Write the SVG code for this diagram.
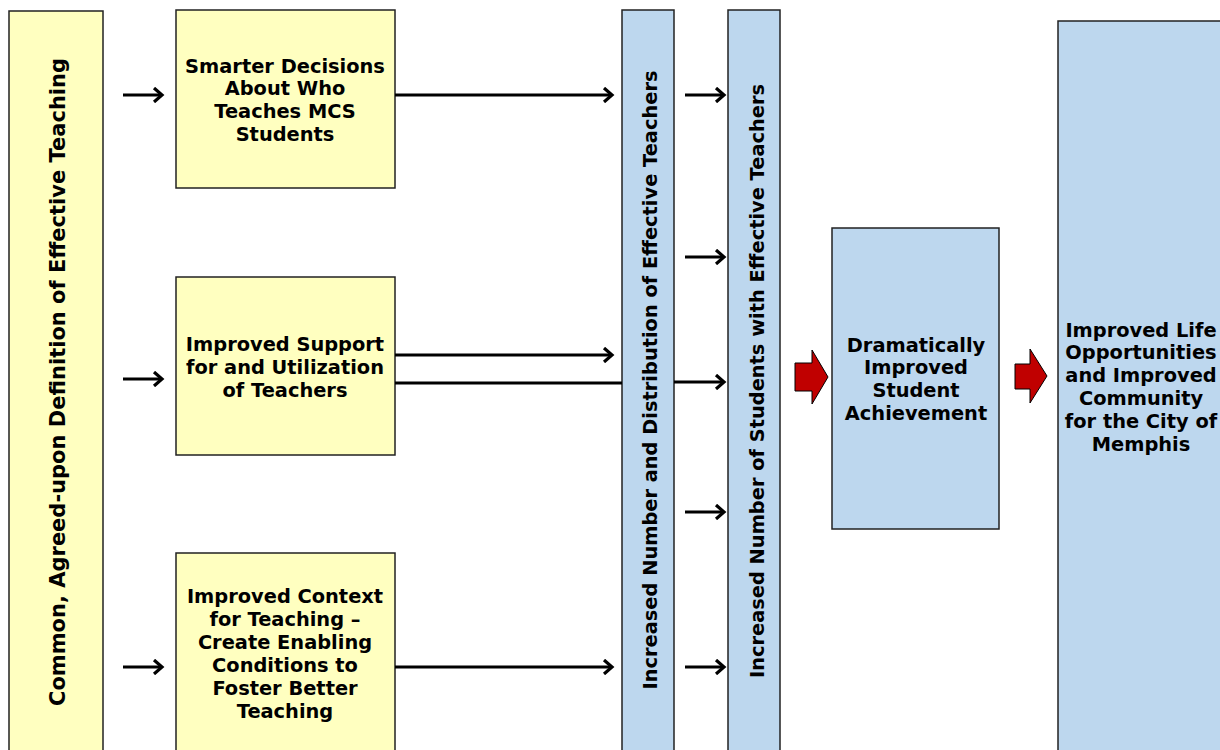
<svg xmlns="http://www.w3.org/2000/svg" width="1220" height="750" viewBox="0 0 1220 750">
<defs>
<style>
.y{fill:#FFFFC0;stroke:#222;stroke-width:1.5}
.b{fill:#BDD7EE;stroke:#222;stroke-width:1.5}
.t{font-family:"DejaVu Sans",Verdana,sans-serif;font-weight:bold;font-size:19.4px;fill:#000;text-anchor:middle;dominant-baseline:central}
.v{font-size:21px}
.c{stroke:#000;stroke-width:3;fill:none}
.r{fill:#C00000;stroke:#000;stroke-width:1}
</style>
<marker id="ah" markerWidth="14" markerHeight="16" refX="11" refY="8" orient="auto" markerUnits="userSpaceOnUse">
<polyline points="3,1 11,8 3,15" fill="none" stroke="#000" stroke-width="3.2"/>
</marker>
</defs>
<rect width="1220" height="750" fill="#fff"/>
<g id="n-definition"><rect class="y" x="9" y="11" width="94" height="760"/>
<text class="t v" transform="translate(58,382) rotate(-90)">Common, Agreed-upon Definition of Effective Teaching</text></g>
<g id="n-decisions"><rect class="y" x="176" y="10" width="219" height="178"/>
<text class="t" x="285" y="66">Smarter Decisions</text><text class="t" x="285" y="88">About Who</text><text class="t" x="285" y="111">Teaches MCS</text><text class="t" x="285" y="134">Students</text></g>
<g id="n-support"><rect class="y" x="176" y="277" width="219" height="178"/>
<text class="t" x="285" y="344">Improved Support</text><text class="t" x="285" y="367">for and Utilization</text><text class="t" x="285" y="390">of Teachers</text></g>
<g id="n-context"><rect class="y" x="176" y="553" width="219" height="220"/>
<text class="t" x="285" y="596">Improved Context</text><text class="t" x="285" y="619">for Teaching –</text><text class="t" x="285" y="642">Create Enabling</text><text class="t" x="285" y="665">Conditions to</text><text class="t" x="285" y="688">Foster Better</text><text class="t" x="285" y="711">Teaching</text></g>
<g id="n-distribution"><rect class="b" x="622" y="10" width="52" height="760"/>
<text class="t" transform="translate(650,380) rotate(-90)">Increased Number and Distribution of Effective Teachers</text></g>
<g id="n-students"><rect class="b" x="728" y="10" width="52" height="760"/>
<text class="t" transform="translate(757,381) rotate(-90)">Increased Number of Students with Effective Teachers</text></g>
<g id="n-achievement"><rect class="b" x="832" y="228" width="167" height="301"/>
<text class="t" x="916" y="345">Dramatically</text><text class="t" x="916" y="367">Improved</text><text class="t" x="916" y="390">Student</text><text class="t" x="916" y="413">Achievement</text></g>
<g id="n-life"><rect class="b" x="1058" y="21" width="200" height="760"/>
<text class="t" x="1141" y="330">Improved Life</text><text class="t" x="1141" y="352">Opportunities</text><text class="t" x="1141" y="375">and Improved</text><text class="t" x="1141" y="398">Community</text><text class="t" x="1141" y="421">for the City of</text><text class="t" x="1141" y="444">Memphis</text></g>
<g id="connectors">
<line class="c" x1="123" y1="95" x2="162" y2="95" marker-end="url(#ah)"/>
<line class="c" x1="123" y1="379" x2="162" y2="379" marker-end="url(#ah)"/>
<line class="c" x1="123" y1="667" x2="162" y2="667" marker-end="url(#ah)"/>
<line class="c" x1="395" y1="95" x2="612" y2="95" marker-end="url(#ah)"/>
<line class="c" x1="395" y1="355" x2="612" y2="355" marker-end="url(#ah)"/>
<line class="c" x1="395" y1="383" x2="622" y2="383"/>
<line class="c" x1="395" y1="667" x2="612" y2="667" marker-end="url(#ah)"/>
<line class="c" x1="685" y1="95" x2="724" y2="95" marker-end="url(#ah)"/>
<line class="c" x1="685" y1="257" x2="724" y2="257" marker-end="url(#ah)"/>
<line class="c" x1="674" y1="382" x2="724" y2="382" marker-end="url(#ah)"/>
<line class="c" x1="685" y1="512" x2="724" y2="512" marker-end="url(#ah)"/>
<line class="c" x1="685" y1="667" x2="724" y2="667" marker-end="url(#ah)"/>
<polygon class="r" points="795,363 812,363 812,350 828,377 812,404 812,391 795,391"/>
<polygon class="r" points="1015,364 1030,364 1030,349 1047,376 1030,403 1030,389 1015,389"/>
</g>
</svg>
